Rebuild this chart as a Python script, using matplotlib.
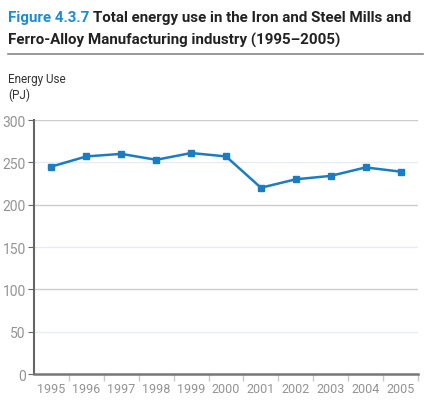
import matplotlib
matplotlib.use('Agg')
import matplotlib.pyplot as plt
from matplotlib.ticker import MultipleLocator

years = ['1995', '1996', '1997', '1998', '1999', '2000',
         '2001', '2002', '2003', '2004', '2005']
energy = [245, 257, 260, 253, 261, 257, 220, 230, 234, 244, 239]

plt.rcParams['font.family'] = ['Roboto', 'DejaVu Sans']

fig = plt.figure(figsize=(4.32, 4.14), dpi=100)
ax = fig.add_axes([0.0787, 0.0942, 0.889, 0.6135])

x = list(range(len(years)))
ax.plot(x, energy, color='#1a7dc4', lw=1.8, marker='s', ms=5, zorder=3)

ax.set_xlim(-0.5, len(years) - 0.5)
ax.set_ylim(0, 300)
ax.set_xticks(x)
ax.set_xticklabels(years)
ax.set_xticks([i + 0.5 for i in x], minor=True)
ax.tick_params(axis='x', which='major', length=0, pad=6, labelsize=9, labelcolor='#939393')
ax.tick_params(axis='x', which='minor', length=5, color='#c8c8c8', width=1)

ax.yaxis.set_major_locator(MultipleLocator(50))
ax.tick_params(axis='y', length=4, color='#666666', labelsize=10, labelcolor='#939393', pad=2)
for v in range(50, 301, 50):
    c = '#cccccc' if v % 100 == 0 else '#e3ecf7'
    ax.axhline(v, color=c, lw=1, zorder=1)

for s in ['top', 'right']:
    ax.spines[s].set_visible(False)
ax.spines['left'].set_color('#666666')
ax.spines['left'].set_linewidth(1.5)
ax.spines['bottom'].set_color('#777777')
ax.spines['bottom'].set_linewidth(1.8)

fig.text(8 / 432, 1 - 88 / 414, 'Energy Use\n(PJ)', fontsize=8.5, color='#333333',
         va='center', ha='left', linespacing=1.25)

# title, sized so the first line spans the width like the reference
fs = 14
t1 = fig.text(8 / 432, 1 - 22 / 414, 'Figure 4.3.7', fontsize=fs, fontweight='bold',
              color='#1f8ad6', va='baseline', ha='left')
t2 = fig.text(0, 1 - 22 / 414, 'Total energy use in the Iron and Steel Mills and',
              fontsize=fs, fontweight='bold', color='#222222', va='baseline', ha='left')
t3 = fig.text(8 / 432, 1 - 45 / 414, 'Ferro-Alloy Manufacturing industry (1995\u20132005)',
              fontsize=fs, fontweight='bold', color='#222222', va='baseline', ha='left')
r = fig.canvas.get_renderer()
w = t1.get_window_extent(r).width + 4 + t2.get_window_extent(r).width
fs = fs * 405 / w
for t in (t1, t2, t3):
    t.set_fontsize(fs)
bb = t1.get_window_extent(r)
t2.set_x((bb.x1 + 4) / 432)
fig.add_artist(plt.Line2D([8 / 432, 423 / 432], [1 - 55 / 414, 1 - 55 / 414],
                          color='#888888', lw=1.2))

fig.savefig('out.png', dpi=100)
